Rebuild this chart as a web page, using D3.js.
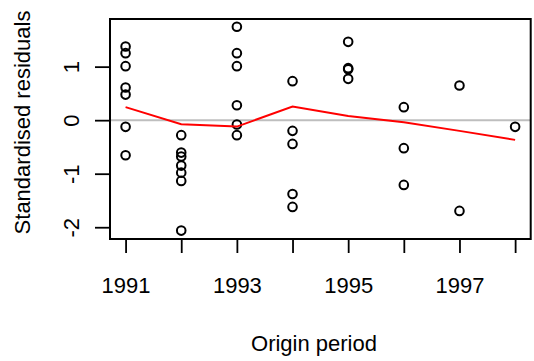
<!DOCTYPE html>
<html>
<head>
<meta charset="utf-8">
<script src="https://cdn.jsdelivr.net/npm/d3@7"></script>
<style>
  body { margin: 0; background: #fff; }
  text { font-family: "Liberation Sans", Arial, sans-serif; fill: #000; }
</style>
</head>
<body>
<svg id="chart"></svg>
<script>
// Data
const originPeriods = [1991, 1992, 1993, 1994, 1995, 1996, 1997, 1998];
const residuals = [
  [1.376, 1.252, 1.009, 0.609, 0.478, -0.125, -0.654],
  [-0.28, -0.606, -0.68, -0.849, -0.98, -1.135, -2.063],
  [1.744, 1.252, 1.009, 0.28, -0.082, -0.28],
  [0.729, -0.2, -0.443, -1.378, -1.62],
  [1.463, 0.972, 0.95, 0.772],
  [0.243, -0.523, -1.209],
  [0.647, -1.695],
  [-0.125]
];
const smoothValues = [0.243, -0.075, -0.12, 0.254, 0.08, -0.04, -0.2, -0.368];
const xTickLabels = [1991, 1993, 1995, 1997];
const yTickValues = [-2, -1, 0, 1];

// Canvas
const width = 534;
const height = 361;
const margin = {left: 110, top: 19, right: 3.3, bottom: 122};

const svg = d3.select('#chart')
  .attr('width', width)
  .attr('height', height);

const xScale = d3.scaleLinear()
  .domain([1990.72, 1998.28])
  .range([margin.left, width - margin.right]);

const yScale = d3.scaleLinear()
  .domain([-2.22, 1.89])
  .range([height - margin.bottom, margin.top]);

// flatten points
const points = [];
residuals.forEach((vals, i) => {
  vals.forEach(v => points.push({x: originPeriods[i], y: v}));
});

// zero reference line
svg.append('line')
  .attr('x1', xScale.range()[0])
  .attr('x2', xScale.range()[1])
  .attr('y1', yScale(0))
  .attr('y2', yScale(0))
  .attr('stroke', '#bebebe')
  .attr('stroke-width', 2);

// points
svg.selectAll('circle')
  .data(points)
  .enter()
  .append('circle')
  .attr('cx', d => xScale(d.x))
  .attr('cy', d => yScale(d.y))
  .attr('r', 4.3)
  .attr('fill', 'none')
  .attr('stroke', '#000')
  .attr('stroke-width', 2);

// smoother
const line = d3.line()
  .x((d, i) => xScale(originPeriods[i]))
  .y(d => yScale(d));

svg.append('path')
  .datum(smoothValues)
  .attr('d', line)
  .attr('fill', 'none')
  .attr('stroke', '#ff0000')
  .attr('stroke-width', 2);

// box
svg.append('rect')
  .attr('x', xScale.range()[0])
  .attr('y', yScale.range()[1])
  .attr('width', xScale.range()[1] - xScale.range()[0])
  .attr('height', yScale.range()[0] - yScale.range()[1])
  .attr('fill', 'none')
  .attr('stroke', '#000')
  .attr('stroke-width', 2);

// x axis
const xAxis = d3.axisBottom(xScale)
  .tickValues(originPeriods)
  .tickSize(14)
  .tickPadding(24)
  .tickFormat(d => xTickLabels.includes(d) ? d : '');

const gx = svg.append('g')
  .attr('transform', 'translate(0,' + (height - margin.bottom) + ')')
  .call(xAxis);
gx.select('.domain').remove();
gx.selectAll('line').attr('stroke', '#000').attr('stroke-width', 1.8);
gx.selectAll('text')
  .style('font-size', '22px')
  .attr('fill', '#000');

// y axis
const yAxis = d3.axisLeft(yScale)
  .tickValues(yTickValues)
  .tickSize(15)
  .tickFormat(d => String(d));

const gy = svg.append('g')
  .attr('transform', 'translate(' + margin.left + ',0)')
  .call(yAxis);
gy.select('.domain').remove();
gy.selectAll('line').attr('stroke', '#000').attr('stroke-width', 1.8);
gy.selectAll('text')
  .attr('x', null)
  .attr('dy', null)
  .attr('transform', 'translate(-38.3,0) rotate(-90)')
  .attr('text-anchor', 'middle')
  .attr('dominant-baseline', 'central')
  .style('font-size', '22px')
  .attr('fill', '#000');

// axis titles
svg.append('text')
  .attr('x', 314)
  .attr('y', 351)
  .attr('text-anchor', 'middle')
  .style('font-size', '22px')
  .text('Origin period');

svg.append('text')
  .attr('transform', 'translate(29.5,122.5) rotate(-90)')
  .attr('text-anchor', 'middle')
  .style('font-size', '22px')
  .text('Standardised residuals');
</script>
</body>
</html>
